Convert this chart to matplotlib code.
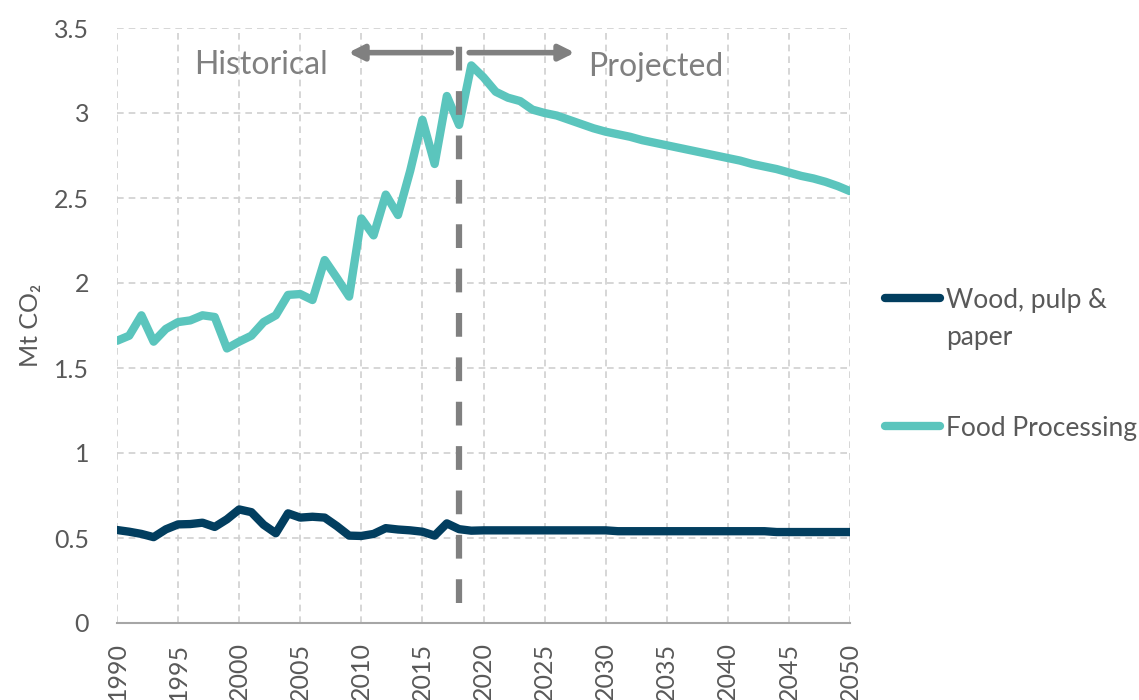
import numpy as np
import matplotlib.pyplot as plt

plt.rcParams['font.family'] = ['Lato', 'DejaVu Sans']

years = list(range(1990, 2051))

wood_pulp_paper = [0.547, 0.537, 0.524, 0.505, 0.551, 0.580, 0.582, 0.590, 0.565, 0.610,
                   0.668, 0.652, 0.578, 0.528, 0.645, 0.620, 0.625, 0.620, 0.570, 0.514,
                   0.512, 0.524, 0.558, 0.550, 0.545, 0.537, 0.514, 0.586, 0.552, 0.543,
                   0.545, 0.545, 0.545, 0.545, 0.545, 0.545, 0.545, 0.545, 0.545, 0.545,
                   0.545, 0.540, 0.540, 0.540, 0.540, 0.540, 0.540, 0.540, 0.540, 0.540,
                   0.540, 0.540, 0.540, 0.540, 0.535, 0.535, 0.535, 0.535, 0.535, 0.535,
                   0.535]

food_processing = [1.66, 1.69, 1.81, 1.655, 1.73, 1.77, 1.78, 1.81, 1.80, 1.615,
                   1.655, 1.69, 1.77, 1.81, 1.93, 1.935, 1.90, 2.135, 2.03, 1.92,
                   2.38, 2.28, 2.52, 2.40, 2.66, 2.96, 2.70, 3.10, 2.93, 3.28,
                   3.21, 3.125, 3.09, 3.07, 3.02, 3.00, 2.985, 2.96, 2.935, 2.91,
                   2.89, 2.875, 2.86, 2.84, 2.825, 2.81, 2.795, 2.78, 2.765, 2.75,
                   2.735, 2.72, 2.70, 2.685, 2.67, 2.65, 2.63, 2.615, 2.595, 2.57,
                   2.54]

navy = '#023e5f'
teal = '#5bc5bd'
gray = '#808080'
text_gray = '#595959'

fig = plt.figure(figsize=(11.39, 7), dpi=100)
ax = fig.add_axes([0.1027, 0.11, 0.6436, 0.85])

ax.plot(years, wood_pulp_paper, color=navy, lw=6, label='Wood, pulp &',
        solid_joinstyle='round', solid_capstyle='round')
ax.plot(years, food_processing, color=teal, lw=6, label='Food Processing',
        solid_joinstyle='round', solid_capstyle='round')

# divider between historical and projected
ax.plot([2018, 2018], [0.12, 3.43], color=gray, lw=4.5, ls=(0, (3.8, 3.3)), zorder=3)
ax.annotate('', xy=(2008.7, 3.355), xytext=(2017.6, 3.355),
            arrowprops=dict(arrowstyle='-|>,head_length=0.9,head_width=0.45',
                            color=gray, lw=4))
ax.annotate('', xy=(2027.7, 3.355), xytext=(2018.6, 3.355),
            arrowprops=dict(arrowstyle='-|>,head_length=0.9,head_width=0.45',
                            color=gray, lw=4))
ax.text(2001.8, 3.285, 'Historical', color=gray, fontsize=23, ha='center', va='center')
ax.text(2034.1, 3.27, 'Projected', color=gray, fontsize=23, ha='center', va='center')

ax.set_xlim(1990, 2050)
ax.set_ylim(0, 3.5)
ax.set_xticks(range(1990, 2051, 5))
ax.set_yticks(np.arange(0, 3.51, 0.5))
ax.set_yticklabels(['0', '0.5', '1', '1.5', '2', '2.5', '3', '3.5'])
ax.tick_params(axis='x', rotation=90, length=0, labelsize=18, colors=text_gray, pad=14)
ax.tick_params(axis='y', length=0, labelsize=18, colors=text_gray, pad=20)
ax.set_ylabel('Mt CO₂', fontsize=18, color=text_gray, labelpad=9)

ax.grid(True, color='#d0d0d0', ls=(0, (4, 3)), lw=1.2)
ax.set_axisbelow(True)
for s in ['left', 'right', 'top']:
    ax.spines[s].set_visible(False)
ax.spines['bottom'].set_color('#a6a6a6')
ax.spines['bottom'].set_linewidth(1.5)

leg = ax.legend(loc='upper left', bbox_to_anchor=(0.777, 0.589),
                bbox_transform=fig.transFigure, frameon=False, borderpad=0,
                borderaxespad=0, fontsize=19, handlelength=2.1, handletextpad=0.2,
                labelspacing=3.9, labelcolor=text_gray)

# second line of the wrapped legend label
fig.canvas.draw()
bb = leg.get_texts()[0].get_window_extent()
W, H = fig.canvas.get_width_height()
fig.text(bb.x0 / W, (bb.y0 - 37) / H, 'paper', fontsize=19, color=text_gray,
         ha='left', va='bottom')

fig.savefig('out.png', dpi=100)
